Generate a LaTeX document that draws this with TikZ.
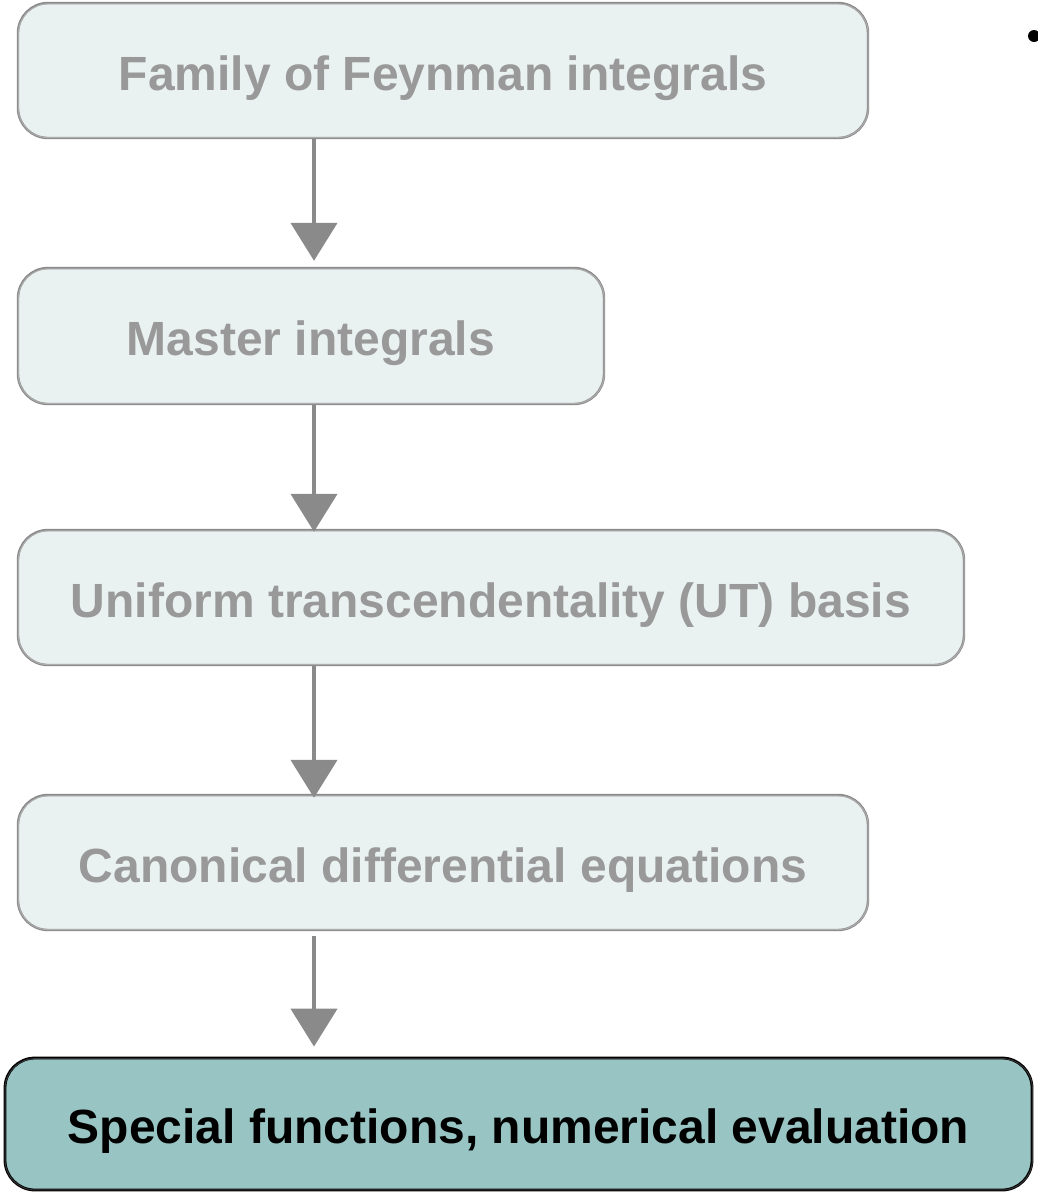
\documentclass[tikz,border=0pt]{standalone}
\usepackage{fontspec}
\setmainfont{Liberation Sans}
\usetikzlibrary{arrows.meta}
\definecolor{boxfill}{HTML}{EAF2F1}
\definecolor{boxline}{HTML}{8A8A8A}
\definecolor{txtgrey}{HTML}{999999}
\definecolor{hifill}{HTML}{98C5C3}
\tikzset{
  stepbox/.style={draw=boxline, fill=boxfill, line width=2.4pt, rounded corners=30pt,
    text=txtgrey, font=\fontsize{48}{56}\selectfont\bfseries, inner sep=0pt,
    text height=44pt, text depth=5pt},
  finalbox/.style={draw=black, fill=hifill, line width=2.8pt, rounded corners=30pt,
    text=black, font=\fontsize{48}{56}\selectfont\bfseries, inner sep=0pt,
    text height=44pt, text depth=5pt},
  ghost/.style={draw=boxline!70, line width=1pt, rounded corners=30pt, fill=none},
  flowarr/.style={draw=boxline, line width=4.5pt,
    -{Triangle[width=46pt,length=38pt,fill=boxline]}},
}
\begin{document}
\begin{tikzpicture}[x=1pt,y=-1pt]
\useasboundingbox (0,0) rectangle (1037,1195);
\node[stepbox, minimum width=850pt, minimum height=135pt] (b1) at (443,70.5) {Family of Feynman integrals};
\node[stepbox, minimum width=586pt, minimum height=136pt] (b2) at (311,336) {Master integrals};
\node[stepbox, minimum width=946pt, minimum height=135pt] (b3) at (491,597.5) {Uniform transcendentality (UT) basis};
\node[stepbox, minimum width=850pt, minimum height=135pt] (b4) at (443,862.5) {Canonical differential equations};
\node[finalbox, minimum width=1027pt, minimum height=132pt] (b5) at (518.5,1124) {Special functions, numerical evaluation};
% sketchy second strokes
\draw[ghost] ([shift={(1.5,-1.5)}]b1.south west) rectangle ([shift={(-1,2)}]b1.north east);
\draw[ghost] ([shift={(1.5,-1.5)}]b2.south west) rectangle ([shift={(-1,2)}]b2.north east);
\draw[ghost] ([shift={(1.5,-1.5)}]b3.south west) rectangle ([shift={(-1,2)}]b3.north east);
\draw[ghost] ([shift={(1.5,-1.5)}]b4.south west) rectangle ([shift={(-1,2)}]b4.north east);
\draw[ghost, draw=black!80] ([shift={(1.5,-1.5)}]b5.south west) rectangle ([shift={(-1,2)}]b5.north east);
% arrows
\coordinate (ax) at (314,0);
\draw[flowarr, shorten >=6pt] (b1.south -| ax) -- (b2.north -| ax);
\draw[flowarr, shorten >=-3pt] (b2.south -| ax) -- (b3.north -| ax);
\draw[flowarr, shorten >=-4pt] (b3.south -| ax) -- (b4.north -| ax);
\draw[flowarr, shorten <=5pt, shorten >=10pt] (b4.south -| ax) -- (b5.north -| ax);
% bullet
\fill (1034,36) circle (6pt);
\end{tikzpicture}
\end{document}
